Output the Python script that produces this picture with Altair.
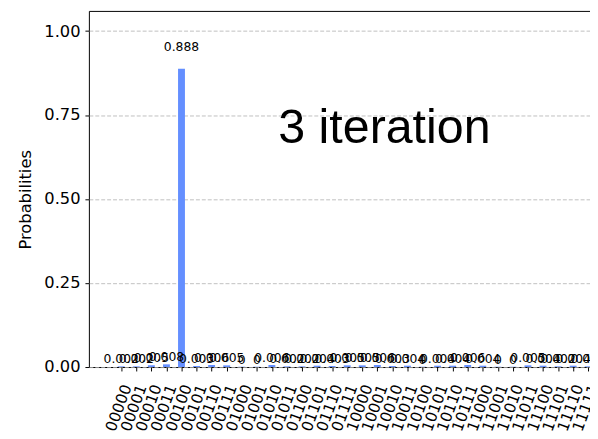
import altair as alt
import pandas as pd

states = ["00000", "00001", "00010", "00011", "00100", "00101", "00110", "00111",
          "01000", "01001", "01010", "01011", "01100", "01101", "01110", "01111",
          "10000", "10001", "10010", "10011", "10100", "10101", "10110", "10111",
          "11000", "11001", "11010", "11011", "11100", "11101", "11110", "11111"]
probs = [0.002, 0.002, 0.005, 0.008, 0.888, 0.003, 0.006, 0.005, 0.0009, 0.0009,
         0.006, 0.002, 0.002, 0.004, 0.003, 0.005, 0.005, 0.006, 0.003, 0.004,
         0.0009, 0.004, 0.004, 0.006, 0.004, 0.0009, 0.0009, 0.005, 0.004, 0.002,
         0.004, 0.002]
positions = list(range(len(states)))
y_ticks = [0, 0.25, 0.5, 0.75, 1.0]
annotation = "3 iteration"

df = pd.DataFrame({"idx": positions, "state": states, "p": probs})

xscale = alt.Scale(domain=[-1.82, 32.82], nice=False, zero=False)
yscale = alt.Scale(domain=[0, 1.06], nice=False)

label_expr = "[" + ",".join(f"'{s}'" for s in states) + "][datum.value]"

FONT = "DejaVu Sans"

x_axis = alt.Axis(values=positions, labelExpr=label_expr, labelAngle=-70,
                  labelAlign="center", labelBaseline="middle", labelPadding=37,
                  labelOffset=-3,
                  labelOverlap=False, labelBound=False, labelFlush=False,
                  labelFontSize=15.5, labelFont=FONT, labelColor="black",
                  tickSize=4, tickColor="black", tickWidth=1,
                  grid=False, domain=False, title=None)
y_axis = alt.Axis(values=y_ticks, format=".2f", labelFontSize=16.5, labelFont=FONT,
                  labelColor="black", labelPadding=5, tickSize=4, tickColor="black",
                  tickWidth=1, grid=True, gridDash=[4, 2], gridColor="#b0b0b0",
                  gridWidth=0.8, domain=False, title="Probabilities", titleFontSize=16.5,
                  titleFont=FONT, titleFontWeight="normal", titleColor="black",
                  titleAngle=-90, titleAlign="center", titleBaseline="middle",
                  titleX=-64, titleY=191)

bars = alt.Chart(df).mark_bar(size=7, color="#648fff").encode(
    x=alt.X("idx:Q", scale=xscale, axis=x_axis, title=None),
    y=alt.Y("p:Q", scale=yscale, axis=y_axis, title="Probabilities"),
)

labels = alt.Chart(df).transform_calculate(
    lbl="datum.p >= 0.001 ? format(datum.p, '.3f') : '0'",
    ly="datum.p * 1.05",
).mark_text(baseline="bottom", align="center", fontSize=12.5, font=FONT, color="black").encode(
    x=alt.X("idx:Q", scale=xscale, axis=x_axis, title=None),
    y=alt.Y("ly:Q", scale=yscale, axis=y_axis, title="Probabilities"),
    text="lbl:N",
)

note = alt.Chart(pd.DataFrame({"t": [annotation]})).mark_text(
    align="left", baseline="alphabetic", fontSize=49, font="Liberation Sans", color="black"
).encode(x=alt.value(192), y=alt.value(134), text="t:N")

chart = alt.layer(bars, labels, note).properties(
    width=539, height=361,
    padding={"left": 82, "top": 0, "right": -31, "bottom": 70},
    autosize=alt.AutoSizeParams(type="none"),
).configure_view(stroke="black", strokeWidth=1)

chart.save("out.html", embed_options={"renderer": "svg", "actions": False})
